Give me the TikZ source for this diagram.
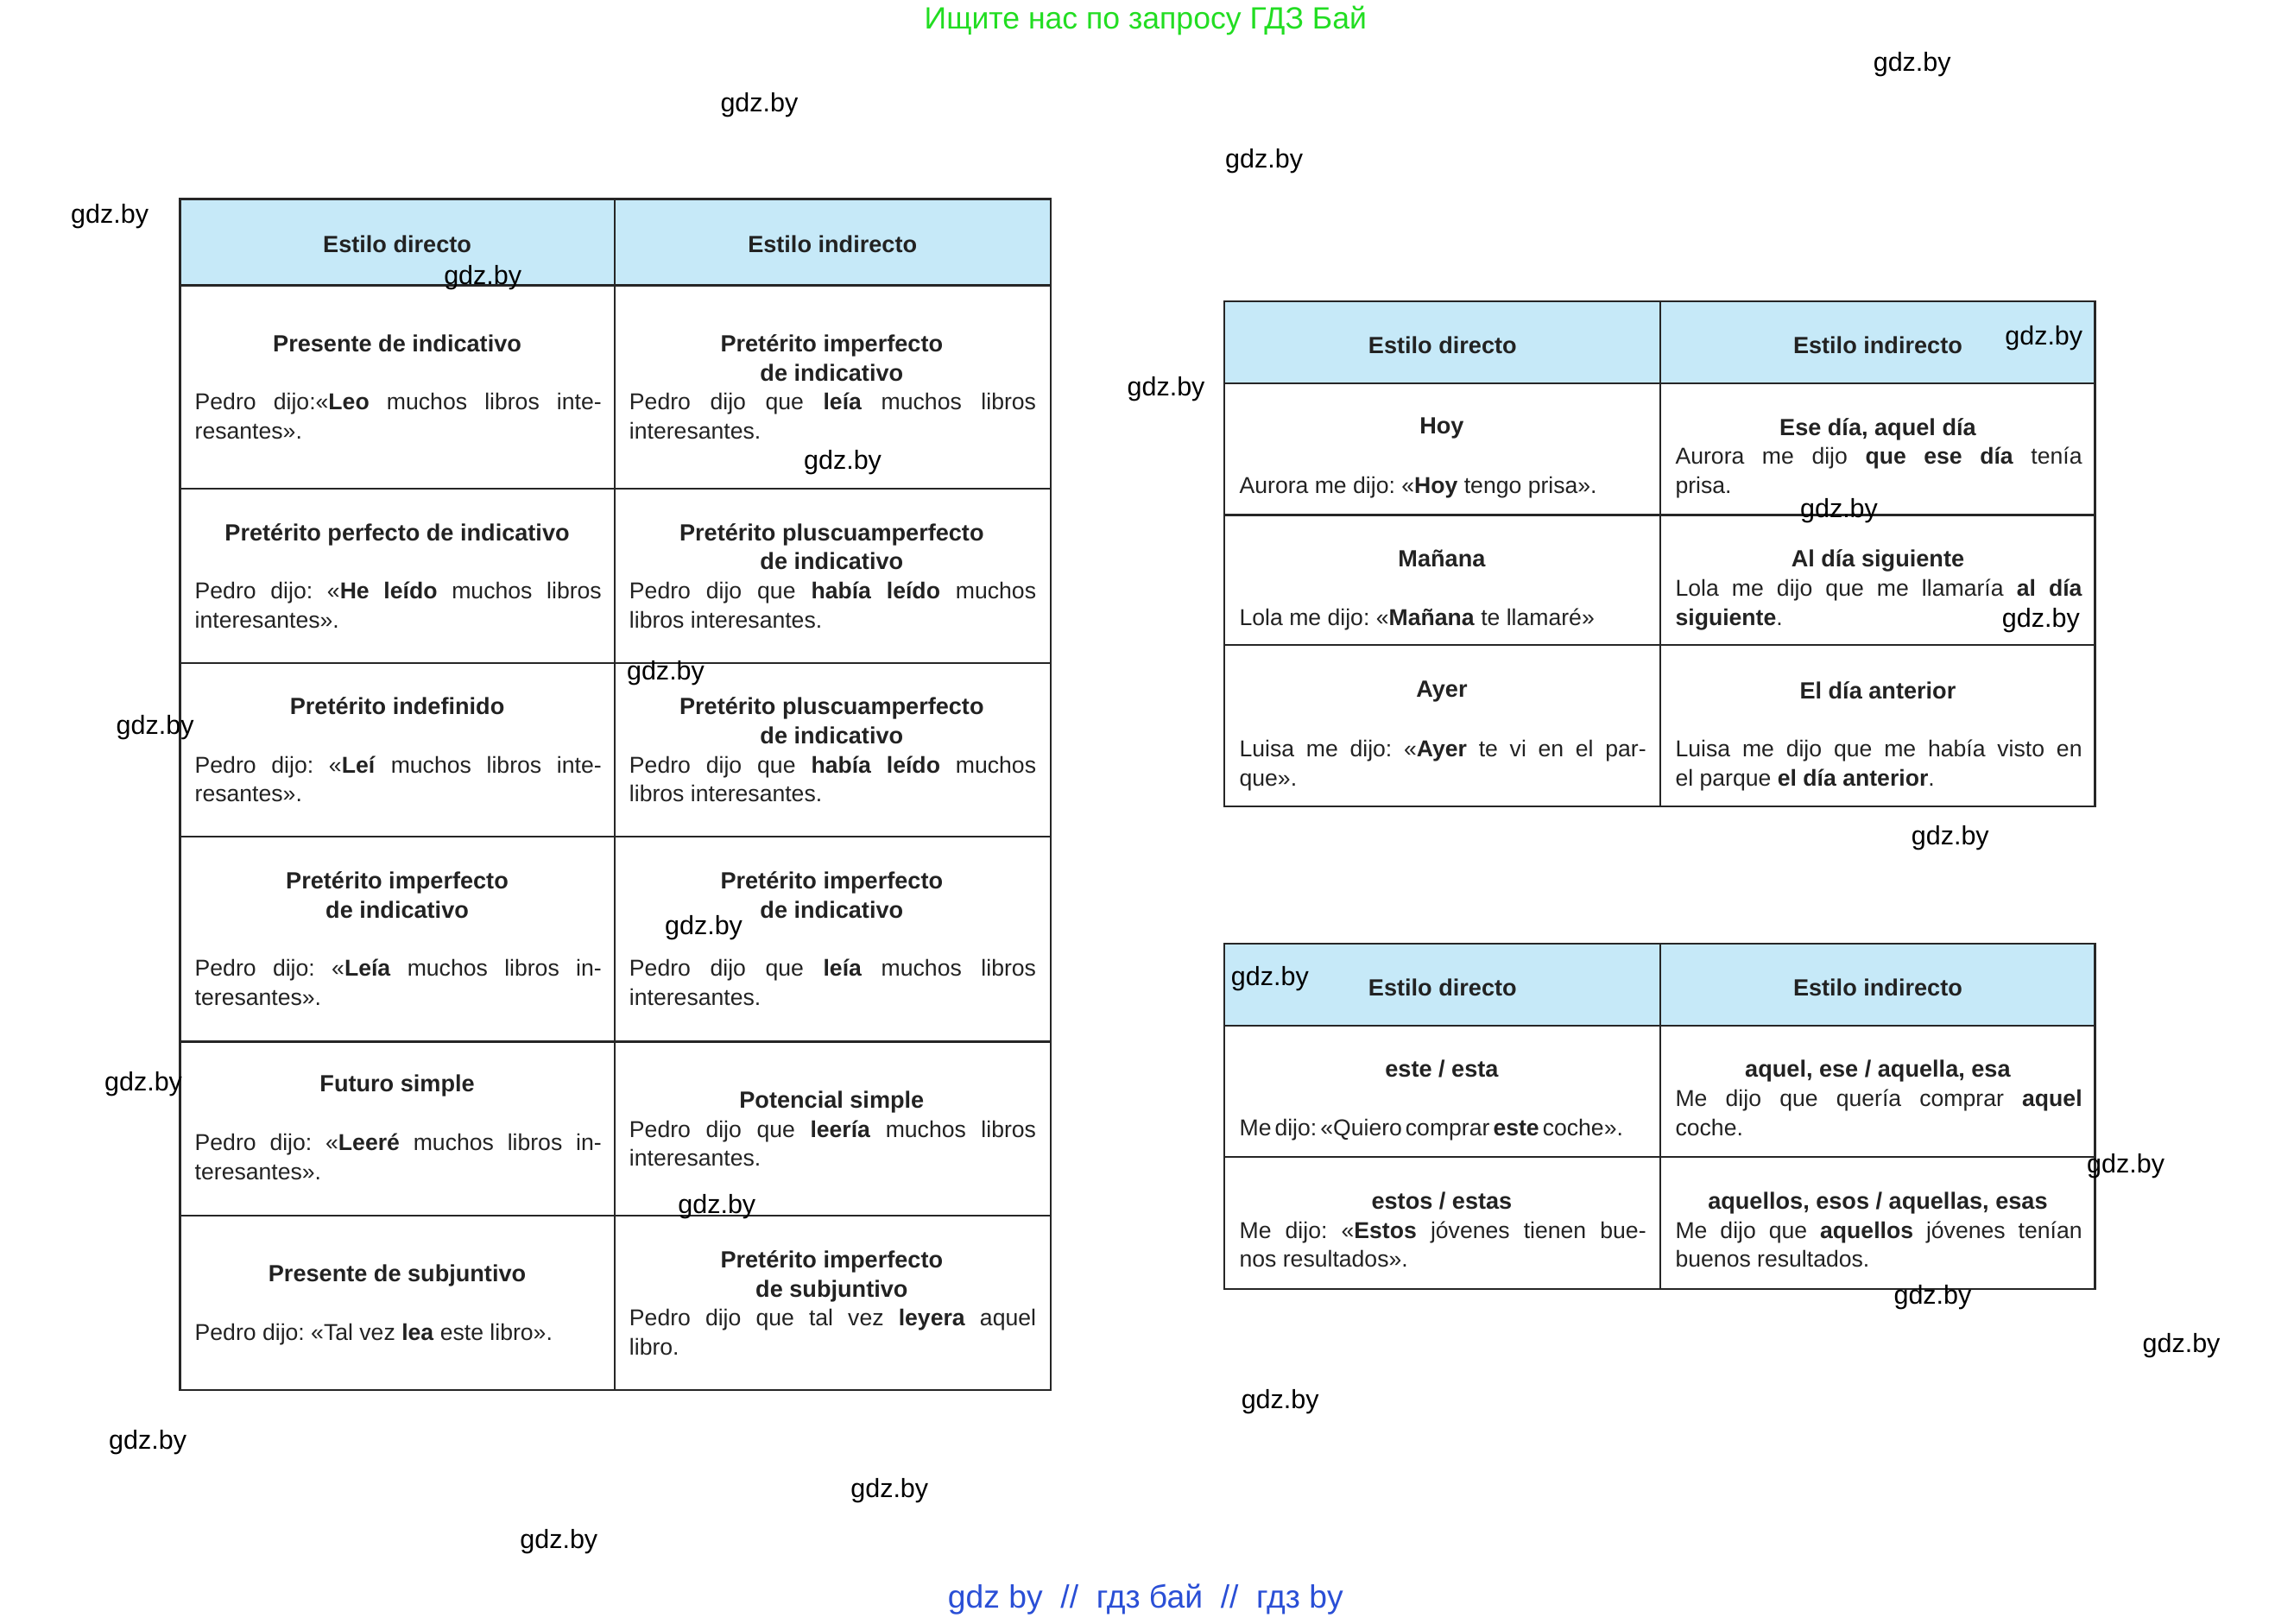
\documentclass[tikz,border=0pt]{standalone}
\usepackage{fontspec}
\setmainfont{Liberation Sans}
\newfontfamily\wmfont{Liberation Sans}
\definecolor{hdr}{HTML}{C6E9F8}
\definecolor{txt}{HTML}{222222}
\definecolor{wmgreen}{HTML}{22DD22}
\definecolor{wmblue}{HTML}{2A4FD6}
\newcommand{\tcell}[5]{%
  \node[ttl] at (#1+148.5,#2-6.5) {#3};
  \node[bdy] at (#1+10,#4-6.5) {#5};}
\begin{document}
\begin{tikzpicture}[x=1pt,y=-1pt,
  ttl/.style={anchor=north,align=center,inner sep=0,font=\fontsize{16}{20}\selectfont\bfseries,text=txt},
  bdy/.style={anchor=north west,inner sep=0,text width=278pt,align=justify,font=\fontsize{15.7}{20}\selectfont\frenchspacing,text=txt},
  hd/.style={font=\fontsize{16}{20}\selectfont\bfseries,text=txt},
  grid/.style={line width=1.3pt,draw=black!85},
  wm/.style={font=\wmfont\fontsize{18}{20}\selectfont,text=black}]
\useasboundingbox (0,0) rectangle (1568,1110);
% left table
\fill[hdr] (123,136) rectangle (718,195);
\draw[grid] (123,136) rectangle (718,950);
\draw[grid] (420,136) -- (420,950);
\foreach \y in {195,334,453,572,712,831} \draw[grid] (123,\y) -- (718,\y);
\node[hd] at (271.5,167) {Estilo directo};
\node[hd] at (569,167) {Estilo indirecto};
\tcell{123}{235}{Presente de indicativo}{275}{Pedro dijo:«\textbf{Leo} muchos libros inte-\linebreak resantes».}
\tcell{420}{235}{Pretérito imperfecto\\de indicativo}{275}{Pedro dijo que \textbf{leía} muchos libros\linebreak interesantes.}
\tcell{123}{364}{Pretérito perfecto de indicativo}{404}{Pedro dijo: «\textbf{He leído} muchos libros\linebreak interesantes».}
\tcell{420}{364}{Pretérito pluscuamperfecto\\de indicativo}{404}{Pedro dijo que \textbf{había leído} muchos\linebreak libros interesantes.}
\tcell{123}{483}{Pretérito indefinido}{523}{Pedro dijo: «\textbf{Leí} muchos libros inte-\linebreak resantes».}
\tcell{420}{483}{Pretérito pluscuamperfecto\\de indicativo}{523}{Pedro dijo que \textbf{había leído} muchos\linebreak libros interesantes.}
\tcell{123}{602}{Pretérito imperfecto\\de indicativo}{662}{Pedro dijo: «\textbf{Leía} muchos libros in-\linebreak teresantes».}
\tcell{420}{602}{Pretérito imperfecto\\de indicativo}{662}{Pedro dijo que \textbf{leía} muchos libros\linebreak interesantes.}
\tcell{123}{741}{Futuro simple}{781}{Pedro dijo: «\textbf{Leeré} muchos libros in-\linebreak teresantes».}
\tcell{420}{752}{Potencial simple}{772}{Pedro dijo que \textbf{leería} muchos libros\linebreak interesantes.}
\tcell{123}{871}{Presente de subjuntivo}{911}{Pedro dijo: «Tal vez \textbf{lea} este libro».}
\tcell{420}{861}{Pretérito imperfecto\\de subjuntivo}{901}{Pedro dijo que tal vez \textbf{leyera} aquel\linebreak libro.}
% right table 1
\fill[hdr] (837,206) rectangle (1432,262);
\draw[grid] (837,206) rectangle (1432,551);
\draw[grid] (1135,206) -- (1135,551);
\foreach \y in {262,352,441} \draw[grid] (837,\y) -- (1432,\y);
\node[hd] at (986,236) {Estilo directo};
\node[hd] at (1283.5,236) {Estilo indirecto};
\tcell{837}{292}{Hoy}{332}{Aurora me dijo: «\textbf{Hoy} tengo prisa».}
\tcell{1135}{292}{Ese día, aquel día}{312}{Aurora me dijo \textbf{que ese día} tenía\linebreak prisa.}
\tcell{837}{382}{Mañana}{422}{Lola me dijo: «\textbf{Mañana} te llamaré»}
\tcell{1135}{382}{Al día siguiente}{402}{Lola me dijo que me llamaría \textbf{al día}\linebreak \textbf{siguiente}.}
\tcell{837}{472}{Ayer}{512}{Luisa me dijo: «\textbf{Ayer} te vi en el par-\linebreak que».}
\tcell{1135}{472}{El día anterior}{512}{Luisa me dijo que me había visto en\linebreak el parque \textbf{el día anterior}.}
% right table 2
\fill[hdr] (837,645) rectangle (1432,701);
\draw[grid] (837,645) rectangle (1432,881);
\draw[grid] (1135,645) -- (1135,881);
\foreach \y in {701,791} \draw[grid] (837,\y) -- (1432,\y);
\node[hd] at (986,675) {Estilo directo};
\node[hd] at (1283.5,675) {Estilo indirecto};
\tcell{837}{731}{este / esta}{771}{\spaceskip=0.15em Me dijo: «Quiero comprar \textbf{este} coche».}
\tcell{1135}{731}{aquel, ese / aquella, esa}{751}{Me dijo que quería comprar \textbf{aquel}\linebreak coche.}
\tcell{837}{821}{estos / estas}{841}{Me dijo: «\textbf{Estos} jóvenes tienen bue-\linebreak nos resultados».}
\tcell{1135}{821}{aquellos, esos / aquellas, esas}{841}{Me dijo que \textbf{aquellos} jóvenes tenían\linebreak buenos resultados.}
% watermarks
\foreach \x/\y in {519/72,1307/44,864/110,75/148,330/190,1397/231,797/266,576/316,1257/349,1395/424,455/460,106/497,1333/573,481/634,868/669,98/741,1453/797,490/825,1321/887,1491/920,875/958,101/986,608/1019,382/1054}
  \node[wm] at (\x,\y) {gdz.by};
\node[font=\wmfont\fontsize{21}{24}\selectfont,text=wmgreen] at (783,14) {Ищите нас по запросу ГДЗ Бай};
\node[font=\wmfont\fontsize{22}{24}\selectfont,text=wmblue] at (783,1093) {gdz by\ \ //\ \ гдз бай\ \ //\ \ гдз by};
\end{tikzpicture}
\end{document}
